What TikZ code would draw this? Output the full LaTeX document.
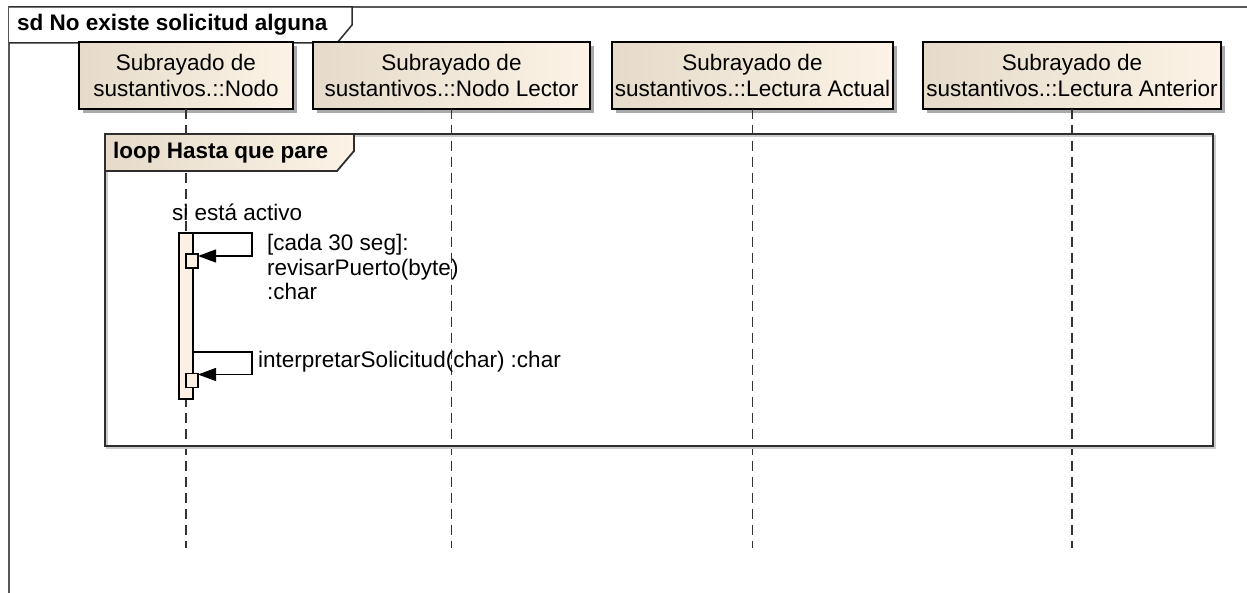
\documentclass[tikz,border=0pt]{standalone}
\usepackage{fontspec}
\setmainfont{Liberation Sans}
\usetikzlibrary{arrows.meta,positioning,calc,shadows}
\definecolor{LifeDark}{HTML}{E6DBCA}
\definecolor{LifeLight}{HTML}{FCF3E6}
\definecolor{ActFill}{HTML}{FBF0E3}
\definecolor{FrameLine}{HTML}{2E2E2E}
\definecolor{ShadeGray}{HTML}{AAAAAA}

\begin{document}
\begin{tikzpicture}[x=1pt,y=-1pt,>=Latex]
  \tikzset{lifebox/.style={draw=black,line width=1.3pt,left color=LifeDark,right color=LifeLight,
    minimum height=67pt,inner xsep=0pt,outer sep=0pt,align=center,
    font=\fontsize{22.5}{26}\selectfont,
    drop shadow={shadow xshift=4pt,shadow yshift=-4pt,fill=ShadeGray,opacity=1}},
    lifeline/.style={black!80,line width=1.3pt,dash pattern=on 10pt off 6pt},
    actbar/.style={draw=black,line width=1.1pt,fill=ActFill,minimum width=14pt,inner sep=0pt,outer sep=0pt},
    callbox/.style={actbar,minimum width=12pt,minimum height=14pt},
    msg/.style={-{Triangle[length=18pt,width=13pt]},black,line width=1.3pt},
    msglbl/.style={inner sep=0pt,align=left,font=\fontsize{22.5}{24.5}\selectfont},
    tabtxt/.style={inner sep=0pt,font=\bfseries\fontsize{22.5}{26}\selectfont}}
  \useasboundingbox (0,0) rectangle (1247,593);
  % outer frame
  \draw[FrameLine!80,line width=1.5pt] (9,593) -- (9,7) -- (1247,7);
  \draw[FrameLine,line width=1.5pt,fill=white] (9,7) -- (352,7) -- (352,25) -- (337,43) -- (9,43);
  \node[tabtxt,anchor=west] (title) at (17,25) {sd No existe solicitud alguna};
  % lifelines
  \node[lifebox,minimum width=214pt] (nodo) at (186,75.5) {Subrayado de\\sustantivos.::Nodo};
  \node[lifebox,minimum width=277pt,right=20pt of nodo] (lector) {Subrayado de\\sustantivos.::Nodo Lector};
  \node[lifebox,minimum width=281pt,right=22pt of lector] (actual) {Subrayado de\\sustantivos.::Lectura Actual};
  \node[lifebox,minimum width=298pt,right=30pt of actual] (anterior) {Subrayado de\\sustantivos.::Lectura Anterior};
  \coordinate (bottom) at (0,548);
  \draw[lifeline] (nodo.south) -- (nodo.south |- bottom);
  \draw[lifeline] (lector.south) -- (lector.south |- bottom);
  \draw[lifeline] (actual.south) -- (actual.south |- bottom);
  \draw[lifeline] (anterior.south) -- (anterior.south |- bottom);
  % loop fragment
  \node[draw=ShadeGray!60,line width=1.5pt,minimum width=1108pt,minimum height=312pt,inner sep=0pt] at (661,292) {};
  \node[draw=FrameLine,line width=1.8pt,minimum width=1108pt,minimum height=312pt,inner sep=0pt,outer sep=0pt] (loop) at (659,290) {};
  \draw[FrameLine,line width=1.8pt,left color=LifeDark,right color=LifeLight]
    (loop.north west) -- ++(249,0) -- ++(0,17) -- ++(-17,20) -- ($(loop.north west)+(0,37)$) -- cycle;
  \node[tabtxt,anchor=west] (looplbl) at ($(loop.north west)+(8,19)$) {loop Hasta que pare};
  % activation
  \node[msglbl,anchor=west] (guard) at (172,212) {si está activo};
  \node[actbar,minimum height=166pt] (act) at (186,316) {};
  \node[callbox] (call1) at (192,261) {};
  \node[callbox] (call2) at (192,380.5) {};
  \draw[msg] (act.north east) -- ++(59,0) |- ([yshift=-2pt]call1.north east);
  \draw[msg] ([yshift=-119pt]act.north east) -- ++(59,0) |- ([yshift=-1pt]call2.north east);
  \node[msglbl,anchor=west] (lbl1) at (267,267) {[cada 30 seg]:\\revisarPuerto(byte)\\:char};
  \node[msglbl,anchor=west] (lbl2) at (258,362) {interpretarSolicitud(char) :char};
\end{tikzpicture}
\end{document}
